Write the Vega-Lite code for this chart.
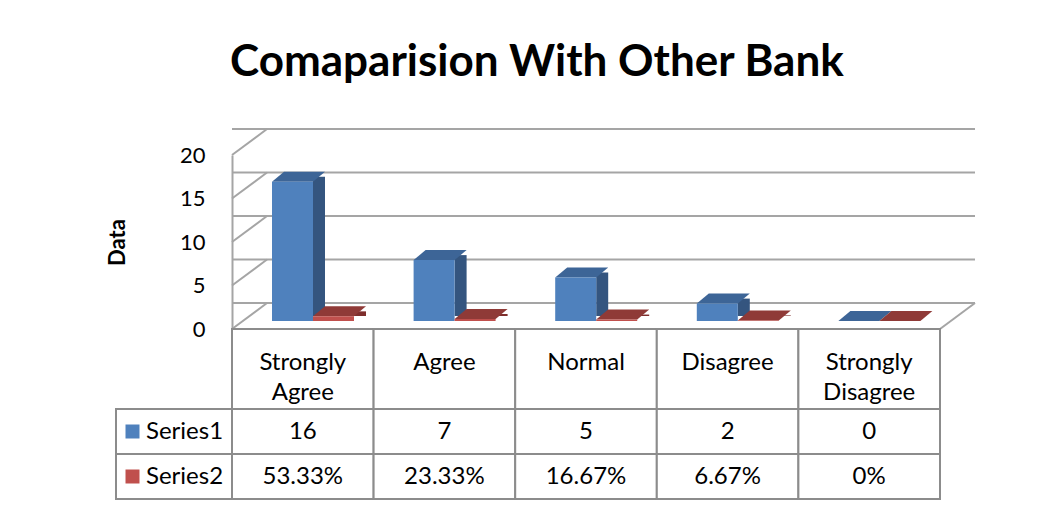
{
  "$schema": "https://vega.github.io/schema/vega-lite/v6.json",
  "padding": {"left": 106, "top": 40, "right": 0, "bottom": 0},
  "config": {"view": {"stroke": null}, "font": "Lato"},
  "title": {"text": "Comaparision With Other Bank", "font": "Lato", "fontSize": 44, "fontWeight": "bold", "color": "black", "anchor": "start", "frame": "group", "dx": 114, "offset": 40},
  "datasets": {
    "main": [
      {"category": "Strongly Agree", "series": "Series1", "value": 16},
      {"category": "Agree", "series": "Series1", "value": 7},
      {"category": "Normal", "series": "Series1", "value": 5},
      {"category": "Disagree", "series": "Series1", "value": 2},
      {"category": "Strongly Disagree", "series": "Series1", "value": 0},
      {"category": "Strongly Agree", "series": "Series2", "value": 0.5333},
      {"category": "Agree", "series": "Series2", "value": 0.2333},
      {"category": "Normal", "series": "Series2", "value": 0.1667},
      {"category": "Disagree", "series": "Series2", "value": 0.0667},
      {"category": "Strongly Disagree", "series": "Series2", "value": 0}
    ],
    "grid": [{"v": 0}, {"v": 5}, {"v": 10}, {"v": 15}, {"v": 20}],
    "floor": [{"v": 0}]
  },
  "columns": 2,
  "spacing": 0,
  "bounds": "flush",
  "align": "each",
  "concat": [
    {"width": 116, "height": 174, "data": {"name": "floor"}, "mark": {"type": "text"}, "encoding": {"text": {"value": ""}}},
    {
      "width": 708, "height": 174,
      "data": {"name": "main"},
      "layer": [
        {
          "data": {"name": "grid"},
          "mark": {"type": "rule", "xOffset": 35, "yOffset": -26, "color": "#A5A5A5", "strokeWidth": 2},
          "encoding": {
            "y": {"field": "v", "type": "quantitative", "title": "Data",
              "scale": {"domain": [0, 20], "nice": false},
              "axis": {"values": [0, 5, 10, 15, 20], "grid": false, "ticks": false, "tickSize": 0, "domain": true, "domainColor": "#A5A5A5", "domainWidth": 2,
                "labelFont": "Lato", "labelFontSize": 22, "labelColor": "black", "labelPadding": 27,
                "title": "Data", "titleFont": "Lato", "titleFontSize": 22, "titleFontWeight": "bold", "titleColor": "black", "titlePadding": 50}}
          }
        },
        {
          "data": {"name": "grid"},
          "mark": {"type": "point", "shape": "M-1,0.743L1,-0.743", "size": 1225, "filled": false, "color": "#A5A5A5", "strokeWidth": 2, "opacity": 1, "xOffset": -336.5, "yOffset": -13},
          "encoding": {
            "y": {"field": "v", "type": "quantitative", "title": "Data"}
          }
        },
        {
          "data": {"name": "floor"},
          "mark": {"type": "point", "shape": "M-1,0.743L1,-0.743", "size": 1225, "filled": false, "color": "#A5A5A5", "strokeWidth": 2, "opacity": 1, "xOffset": 371.5, "yOffset": -13},
          "encoding": {
            "y": {"field": "v", "type": "quantitative", "title": "Data"}
          }
        },
        {
          "transform": [{"filter": "datum.series === 'Series1'"}],
          "mark": {"type": "bar", "width": 12, "xOffset": 16.2, "yOffset": -13, "y2Offset": -13, "color": "#34557F"},
          "encoding": {
            "x": {"field": "category", "type": "nominal", "sort": ["Strongly Agree", "Agree", "Normal", "Disagree", "Strongly Disagree"], "scale": {"paddingInner": 0, "paddingOuter": 0}, "axis": null},
            "y": {"field": "value", "type": "quantitative", "title": "Data"},
            "y2": {"datum": 0}
          }
        },
        {
          "transform": [{"filter": "datum.series === 'Series1'"}],
          "mark": {"type": "point", "shape": "M-1,0.1887L0.547,0.1887L1,-0.1887L-0.547,-0.1887Z", "size": 2809, "filled": true, "color": "#3D6597", "opacity": 1, "xOffset": -4.3, "yOffset": -13},
          "encoding": {
            "x": {"field": "category", "type": "nominal", "sort": ["Strongly Agree", "Agree", "Normal", "Disagree", "Strongly Disagree"], "axis": null},
            "y": {"field": "value", "type": "quantitative", "title": "Data"}
          }
        },
        {
          "transform": [{"filter": "datum.series === 'Series1'"}],
          "mark": {"type": "bar", "width": 41, "xOffset": -10.3, "yOffset": -8, "y2Offset": -8, "color": "#4F81BD"},
          "encoding": {
            "x": {"field": "category", "type": "nominal", "sort": ["Strongly Agree", "Agree", "Normal", "Disagree", "Strongly Disagree"], "axis": null},
            "y": {"field": "value", "type": "quantitative", "title": "Data"},
            "y2": {"datum": 0}
          }
        },
        {
          "transform": [{"filter": "datum.series === 'Series2'"}],
          "mark": {"type": "bar", "width": 12, "xOffset": 57.2, "yOffset": -13, "y2Offset": -13, "color": "#7E2E2C"},
          "encoding": {
            "x": {"field": "category", "type": "nominal", "sort": ["Strongly Agree", "Agree", "Normal", "Disagree", "Strongly Disagree"], "axis": null},
            "y": {"field": "value", "type": "quantitative", "title": "Data"},
            "y2": {"datum": 0}
          }
        },
        {
          "transform": [{"filter": "datum.series === 'Series2'"}],
          "mark": {"type": "point", "shape": "M-1,0.1887L0.547,0.1887L1,-0.1887L-0.547,-0.1887Z", "size": 2809, "filled": true, "color": "#8F3A37", "opacity": 1, "xOffset": 36.7, "yOffset": -13},
          "encoding": {
            "x": {"field": "category", "type": "nominal", "sort": ["Strongly Agree", "Agree", "Normal", "Disagree", "Strongly Disagree"], "axis": null},
            "y": {"field": "value", "type": "quantitative", "title": "Data"}
          }
        },
        {
          "transform": [{"filter": "datum.series === 'Series2'"}],
          "mark": {"type": "bar", "width": 41, "xOffset": 30.7, "yOffset": -8, "y2Offset": -8, "color": "#C0504D"},
          "encoding": {
            "x": {"field": "category", "type": "nominal", "sort": ["Strongly Agree", "Agree", "Normal", "Disagree", "Strongly Disagree"], "axis": null},
            "y": {"field": "value", "type": "quantitative", "title": "Data"},
            "y2": {"datum": 0}
          }
        }
      ]
    },
    {"width": 116, "height": 80, "data": {"name": "floor"}, "mark": {"type": "text"}, "encoding": {"text": {"value": ""}}},
    {
      "width": 708, "height": 80,
      "data": {"name": "main"},
      "transform": [{"filter": "datum.series === 'Series1'"}],
      "layer": [
        {
          "mark": {"type": "rect", "fill": "white", "stroke": "#8C8C8C", "strokeWidth": 2},
          "encoding": {
            "x": {"field": "category", "type": "nominal", "sort": ["Strongly Agree", "Agree", "Normal", "Disagree", "Strongly Disagree"], "scale": {"paddingInner": 0, "paddingOuter": 0}, "axis": null}
          }
        },
        {
          "mark": {"type": "text", "fontSize": 24, "lineBreak": " ", "lineHeight": 30, "baseline": "top", "dy": -18, "color": "black"},
          "encoding": {
            "x": {"field": "category", "type": "nominal", "sort": ["Strongly Agree", "Agree", "Normal", "Disagree", "Strongly Disagree"], "axis": null},
            "text": {"field": "category"}
          }
        }
      ]
    },
    {
      "width": 116, "height": 90,
      "data": {"name": "main"},
      "transform": [{"filter": "datum.category === 'Strongly Agree'"}],
      "layer": [
        {
          "mark": {"type": "rect", "fill": "white", "stroke": "#8C8C8C", "strokeWidth": 2},
          "encoding": {
            "y": {"field": "series", "type": "nominal", "scale": {"paddingInner": 0, "paddingOuter": 0}, "axis": null}
          }
        },
        {
          "mark": {"type": "point", "shape": "square", "size": 196, "filled": true, "opacity": 1, "xOffset": -41.5},
          "encoding": {
            "y": {"field": "series", "type": "nominal", "axis": null},
            "color": {"field": "series", "type": "nominal", "scale": {"domain": ["Series1", "Series2"], "range": ["#4F81BD", "#C0504D"]}, "legend": null}
          }
        },
        {
          "mark": {"type": "text", "fontSize": 24, "align": "left", "dx": -28, "color": "black"},
          "encoding": {
            "y": {"field": "series", "type": "nominal", "axis": null},
            "text": {"field": "series"}
          }
        }
      ]
    },
    {
      "width": 708, "height": 90,
      "data": {"name": "main"},
      "transform": [{"calculate": "datum.series === 'Series1' ? format(datum.value, 'd') : (datum.value === 0 ? '0%' : format(datum.value, '.2%'))", "as": "label"}],
      "layer": [
        {
          "mark": {"type": "rect", "fill": "white", "stroke": "#8C8C8C", "strokeWidth": 2},
          "encoding": {
            "x": {"field": "category", "type": "nominal", "sort": ["Strongly Agree", "Agree", "Normal", "Disagree", "Strongly Disagree"], "scale": {"paddingInner": 0, "paddingOuter": 0}, "axis": null},
            "y": {"field": "series", "type": "nominal", "scale": {"paddingInner": 0, "paddingOuter": 0}, "axis": null}
          }
        },
        {
          "mark": {"type": "text", "fontSize": 24, "color": "black"},
          "encoding": {
            "x": {"field": "category", "type": "nominal", "sort": ["Strongly Agree", "Agree", "Normal", "Disagree", "Strongly Disagree"], "axis": null},
            "y": {"field": "series", "type": "nominal", "axis": null},
            "text": {"field": "label"}
          }
        }
      ]
    }
  ]
}
